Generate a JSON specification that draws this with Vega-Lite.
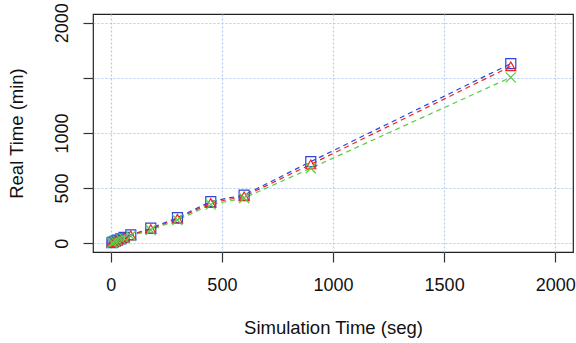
{
  "$schema": "https://vega.github.io/schema/vega-lite/v6.json",
  "width": 480,
  "height": 238,
  "autosize": "none",
  "padding": {"left": 93, "top": 14, "right": 3, "bottom": 91},
  "background": "white",
  "config": {
    "view": {"stroke": "#222222", "strokeWidth": 1.2},
    "font": "Liberation Sans",
    "axis": {
      "labelFont": "Liberation Sans",
      "titleFont": "Liberation Sans",
      "labelFontSize": 18,
      "titleFontSize": 18.5,
      "titleFontWeight": "normal",
      "labelColor": "#111111",
      "titleColor": "#111111",
      "tickColor": "#333333",
      "tickSize": 10,
      "tickWidth": 1.2,
      "domain": false,
      "grid": true,
      "gridColor": "#b4cbee",
      "gridDash": [2, 2],
      "gridWidth": 1.2,
      "format": "d"
    }
  },
  "data": {
    "values": [
      {"sim": 5, "real": 4, "run": "A"},
      {"sim": 10, "real": 9, "run": "A"},
      {"sim": 20, "real": 18, "run": "A"},
      {"sim": 30, "real": 27, "run": "A"},
      {"sim": 45, "real": 40, "run": "A"},
      {"sim": 60, "real": 53, "run": "A"},
      {"sim": 90, "real": 76, "run": "A"},
      {"sim": 180, "real": 136, "run": "A"},
      {"sim": 300, "real": 232, "run": "A"},
      {"sim": 450, "real": 378, "run": "A"},
      {"sim": 600, "real": 437, "run": "A"},
      {"sim": 900, "real": 740, "run": "A"},
      {"sim": 1800, "real": 1630, "run": "A"},
      {"sim": 5, "real": 4, "run": "B"},
      {"sim": 10, "real": 8, "run": "B"},
      {"sim": 20, "real": 17, "run": "B"},
      {"sim": 30, "real": 25, "run": "B"},
      {"sim": 45, "real": 37, "run": "B"},
      {"sim": 60, "real": 49, "run": "B"},
      {"sim": 90, "real": 71, "run": "B"},
      {"sim": 180, "real": 128, "run": "B"},
      {"sim": 300, "real": 222, "run": "B"},
      {"sim": 450, "real": 365, "run": "B"},
      {"sim": 600, "real": 425, "run": "B"},
      {"sim": 900, "real": 715, "run": "B"},
      {"sim": 1800, "real": 1605, "run": "B"},
      {"sim": 5, "real": 3, "run": "C"},
      {"sim": 10, "real": 7, "run": "C"},
      {"sim": 20, "real": 15, "run": "C"},
      {"sim": 30, "real": 23, "run": "C"},
      {"sim": 45, "real": 34, "run": "C"},
      {"sim": 60, "real": 45, "run": "C"},
      {"sim": 90, "real": 65, "run": "C"},
      {"sim": 180, "real": 120, "run": "C"},
      {"sim": 300, "real": 210, "run": "C"},
      {"sim": 450, "real": 350, "run": "C"},
      {"sim": 600, "real": 410, "run": "C"},
      {"sim": 900, "real": 680, "run": "C"},
      {"sim": 1800, "real": 1505, "run": "C"}
    ]
  },
  "encoding": {
    "x": {
      "field": "sim",
      "type": "quantitative",
      "scale": {"domain": [-80, 2080], "nice": false, "zero": false},
      "axis": {
        "title": "Simulation Time (seg)",
        "values": [0, 500, 1000, 1500, 2000],
        "format": "d",
        "labelPadding": 14,
        "labelBaseline": "top",
        "titlePadding": 24,
        "labelFlush": false,
        "labelOverlap": false
      }
    },
    "y": {
      "field": "real",
      "type": "quantitative",
      "scale": {"domain": [-80, 2080], "nice": false, "zero": false},
      "axis": {
        "title": "Real Time (min)",
        "values": [0, 500, 1000, 1500, 2000],
        "format": "d",
        "labelExpr": "datum.value == 1500 ? '' : datum.label",
        "labelAngle": -90,
        "labelAlign": "center",
        "labelBaseline": "bottom",
        "labelPadding": 12,
        "titlePadding": 27,
        "labelFlush": false,
        "labelOverlap": false
      }
    },
    "color": {
      "field": "run",
      "type": "nominal",
      "scale": {"domain": ["A", "B", "C"], "range": ["#2b45d8", "#ee2222", "#55cc44"]},
      "legend": null
    }
  },
  "layer": [
    {
      "mark": {"type": "line", "strokeDash": [5, 4], "strokeWidth": 1.2}
    },
    {
      "mark": {"type": "point", "filled": false, "strokeWidth": 1.2, "opacity": 1},
      "encoding": {
        "shape": {
          "field": "run",
          "type": "nominal",
          "scale": {"domain": ["A", "B", "C"], "range": ["square", "triangle-up", "M-1,-1L1,1M1,-1L-1,1"]},
          "legend": null
        },
        "size": {"value": 100}
      }
    }
  ]
}
